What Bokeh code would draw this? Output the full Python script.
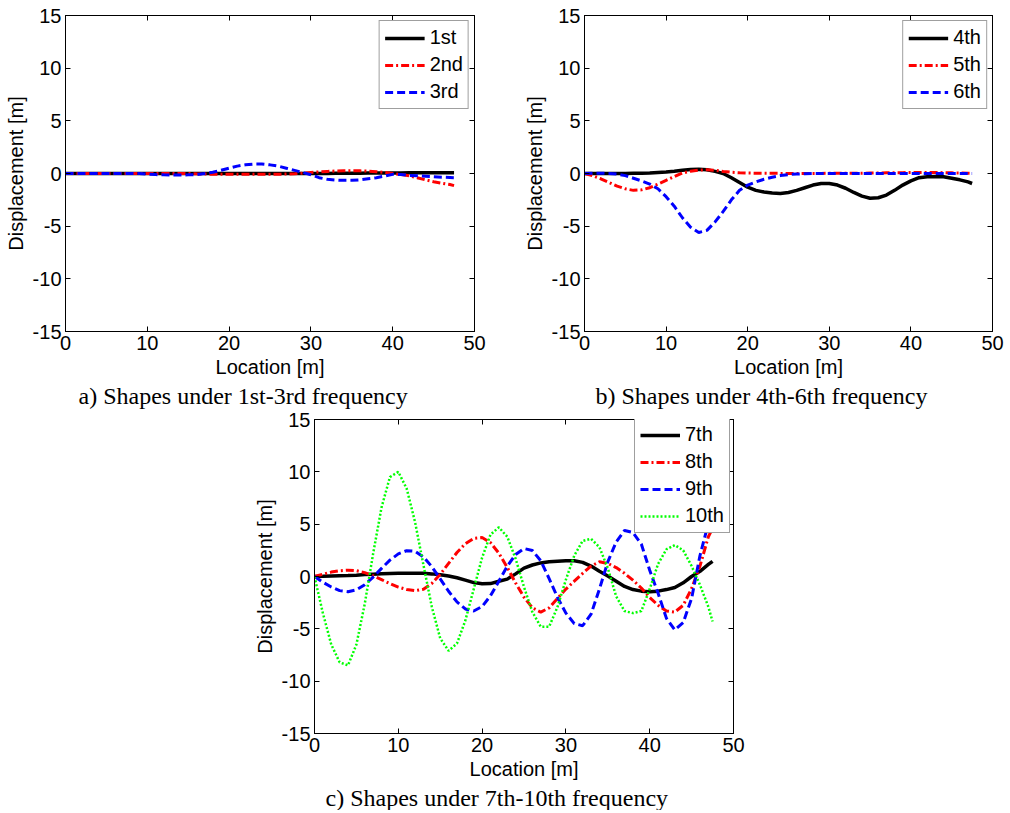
from bokeh.plotting import figure
from bokeh.layouts import column, row
from bokeh.models import LinearAxis, FixedTicker, Title, Legend, LegendItem, Range1d
from bokeh.embed import file_html
from bokeh.resources import INLINE

# ---------------- data ----------------
LOC = [0, 1, 2, 3, 4, 5, 6, 7, 8, 9, 10, 11, 12, 13, 14, 15, 16, 17, 18, 19,
       20, 21, 22, 23, 24, 25, 26, 27, 28, 29, 30, 31, 32, 33, 34, 35, 36, 37,
       38, 39, 40, 41, 42, 43, 44, 45, 46, 47, 47.5]

MODE_1 = [0, 0, 0, 0, 0, 0, 0, 0, 0, 0, 0, 0, 0, 0, 0, 0, 0, 0, 0, 0,
          0, 0, 0, 0, 0, 0, 0, 0, 0, 0, 0, 0.01, 0.01, 0.02, 0.02, 0.03, 0.03, 0.04,
          0.04, 0.05, 0.05, 0.05, 0.06, 0.06, 0.06, 0.06, 0.07, 0.07, 0.07]
MODE_2 = [0, 0, 0, 0, 0, 0, 0, 0, 0, 0, 0, 0, 0, 0, 0, 0, -0.03, -0.05, -0.07, -0.07,
          -0.07, -0.07, -0.07, -0.07, -0.07, -0.07, -0.07, -0.05, -0.02, 0.03, 0.1, 0.15,
          0.2, 0.23, 0.25, 0.25, 0.25, 0.22, 0.17, 0.1, 0.0, -0.1, -0.22, -0.4, -0.6,
          -0.78, -0.92, -1.05, -1.15]
MODE_3 = [0, 0, 0, 0, 0, 0, 0, 0, 0, 0, -0.05, -0.1, -0.13, -0.14, -0.14, -0.13, -0.1,
          0.0, 0.12, 0.3, 0.5, 0.7, 0.83, 0.9, 0.9, 0.82, 0.7, 0.5, 0.3, 0.1, -0.12,
          -0.4, -0.55, -0.62, -0.65, -0.65, -0.6, -0.5, -0.4, -0.25, -0.08, -0.1, -0.18,
          -0.22, -0.26, -0.3, -0.35, -0.38, -0.4]

MODE_4 = [0, 0, 0, 0, 0.01, 0.01, 0.02, 0.03, 0.05, 0.1, 0.15, 0.22, 0.3, 0.38, 0.4,
          0.35, 0.2, 0.0, -0.4, -0.85, -1.3, -1.6, -1.75, -1.85, -1.9, -1.8, -1.6,
          -1.35, -1.1, -0.95, -0.95, -1.1, -1.4, -1.8, -2.15, -2.35, -2.3, -2.05, -1.6,
          -1.1, -0.7, -0.4, -0.3, -0.28, -0.3, -0.45, -0.6, -0.8, -0.95]
MODE_5 = [0, -0.2, -0.5, -0.85, -1.2, -1.45, -1.6, -1.55, -1.35, -1.0, -0.65, -0.3,
          0.05, 0.22, 0.32, 0.35, 0.3, 0.2, 0.12, 0.07, 0.04, 0.03, 0.02, 0.02, 0.01,
          0.01, 0.01, 0.01, 0.01, 0.01, 0.02, 0.02, 0.03, 0.03, 0.03, 0.04, 0.05, 0.06,
          0.07, 0.08, 0.09, 0.1, 0.1, 0.09, 0.08, 0.06, 0.04, 0.02, 0.01]
MODE_6 = [0, 0.02, 0.02, 0.01, -0.05, -0.2, -0.45, -0.7, -1.0, -1.45, -2.2, -3.1, -4.2,
          -5.1, -5.6, -5.4, -4.6, -3.6, -2.5, -1.6, -1.1, -0.8, -0.55, -0.35, -0.2,
          -0.1, -0.05, -0.02, 0, 0, 0, 0, 0, 0, 0, 0, 0, 0, 0, 0, 0, 0, 0, 0, 0, 0, 0, 0, 0]

MODE_7 = [0, 0.02, 0.05, 0.08, 0.1, 0.13, 0.18, 0.22, 0.26, 0.28, 0.3, 0.32, 0.32, 0.3,
          0.25, 0.16, 0.05, -0.12, -0.35, -0.58, -0.7, -0.68, -0.45, -0.25, 0.25, 0.8,
          1.1, 1.3, 1.4, 1.45, 1.5, 1.5, 1.35, 1.0, 0.5, 0.05, -0.45, -0.95, -1.25, -1.4,
          -1.45, -1.4, -1.25, -1.05, -0.6, 0.0, 0.5, 1.15, 1.45]
MODE_8 = [0, 0.22, 0.42, 0.55, 0.6, 0.55, 0.37, 0.07, -0.3, -0.68, -1.01, -1.24, -1.35,
          -1.21, -0.66, 0.21, 1.25, 2.29, 3.13, 3.64, 3.72, 3.24, 2.23, 0.87, -0.62,
          -1.98, -2.99, -3.4, -3.0, -2.1, -1.2, -0.45, 0.3, 1.0, 1.4, 1.25, 0.85,
          0.3, -0.35, -1.1, -2.0, -2.75, -3.3, -3.4, -2.75, -1.15, 1.0, 3.8, 4.6]
MODE_9 = [0, -0.55, -1.0, -1.35, -1.45, -1.27, -0.78, -0.05, 0.78, 1.56, 2.16, 2.47,
          2.41, 1.87, 0.94, -0.22, -1.41, -2.43, -3.1, -3.3, -2.87, -1.84, -0.45, 0.98,
          2.11, 2.67, 2.48, 1.5, -0.2, -2.0, -3.5, -4.5, -4.7, -3.6, -1.2, 1.4,
          3.3, 4.4, 4.2, 3.1, 0.6, -1.6, -4.0, -5.1, -4.4, -2.1, 2.0, 5.1, 6.3]
MODE_10 = [0, -3.5, -6.5, -8.2, -8.49, -6.5, -2.6, 2.2, 6.6, 9.5, 10.0, 8.4, 5.2, 1.1,
           -2.9, -5.9, -7.1, -6.4, -4.2, -1.2, 1.8, 4.0, 4.7, 3.8, 1.7, -1.0, -3.4, -4.8,
           -4.8, -2.9, -0.3, 2.0, 3.4, 3.6, 2.8, 0.8, -1.9, -3.3, -3.5, -3.3, -1.2, 1.2,
           2.6, 3.0, 2.5, 1.0, -0.8, -2.9, -4.3]

LABELS_A = ["1st", "2nd", "3rd"]
LABELS_B = ["4th", "5th", "6th"]
LABELS_C = ["7th", "8th", "9th", "10th"]
CAPTION_A = "a) Shapes under 1st-3rd frequency"
CAPTION_B = "b) Shapes under 4th-6th frequency"
CAPTION_C = "c) Shapes under 7th-10th frequency"
X_TICKS = [0, 10, 20, 30, 40, 50]
Y_TICKS = [-15, -10, -5, 0, 5, 10, 15]
Y_TICK_TEXT = {-15: "-15", -10: "-10", -5: "-5"}
X_LABEL = "Location [m]"
Y_LABEL = "Displacement [m]"

# ---------------- styling ----------------
SANS = "Liberation Sans"
SERIF = "Liberation Serif"
STYLES = [
    dict(line_color="black", line_width=3.5),
    dict(line_color="#FF0000", line_width=3, line_dash="8 3 2 3"),
    dict(line_color="#0000FF", line_width=3, line_dash="8 4"),
    dict(line_color="#00FF00", line_width=2.5, line_dash="2 2"),
]


def style_axis(ax, ticks, show_labels=True):
    ax.ticker = FixedTicker(ticks=ticks)
    ax.major_tick_in = 5
    ax.major_tick_out = 0
    ax.minor_tick_line_color = None
    ax.axis_line_color = "black"
    ax.major_tick_line_color = "black"
    if show_labels:
        ax.major_label_text_font = SANS
        ax.major_label_text_font_size = "20px"
        ax.major_label_text_color = "black"
        ax.major_label_standoff = 4
        ax.axis_label_text_font = SANS
        ax.axis_label_text_font_size = "20px"
        ax.axis_label_text_font_style = "normal"
        ax.axis_label_text_color = "black"
        ax.axis_label_standoff = 3
    else:
        ax.major_label_text_font_size = "1px"
        ax.major_label_text_color = None
        ax.major_label_standoff = 0


def panel(series, labels, caption, fw, fh, left, right, top, bottom,
          cap_offset, legend_loc, legend_margin):
    p = figure(frame_width=fw, frame_height=fh,
               min_border_left=left, min_border_right=right,
               min_border_top=top, min_border_bottom=bottom,
               x_range=Range1d(0, 50), y_range=Range1d(-15, 15),
               x_axis_label=X_LABEL, y_axis_label=Y_LABEL,
               output_backend="svg", toolbar_location=None,
               background_fill_color="white", border_fill_color="white",
               outline_line_color="black")
    p.xgrid.visible = False
    p.ygrid.visible = False
    style_axis(p.xaxis[0], X_TICKS)
    style_axis(p.yaxis[0], Y_TICKS)
    p.yaxis[0].major_label_overrides = Y_TICK_TEXT
    top_ax = LinearAxis()
    style_axis(top_ax, X_TICKS, show_labels=False)
    p.add_layout(top_ax, "above")
    right_ax = LinearAxis()
    style_axis(right_ax, Y_TICKS, show_labels=False)
    p.add_layout(right_ax, "right")

    items = []
    for ys, lab, st in zip(series, labels, STYLES):
        r = p.line(LOC, ys, **st)
        items.append(LegendItem(label=lab, renderers=[r]))
    leg = Legend(items=items, location=legend_loc,
                 label_text_font=SANS, label_text_font_size="20px",
                 label_text_color="black",
                 glyph_width=40, glyph_height=20, label_height=20,
                 label_standoff=5, padding=5, spacing=4, margin=legend_margin,
                 border_line_color="#404040", border_line_width=1,
                 background_fill_color="white", background_fill_alpha=1.0)
    p.add_layout(leg)

    p.add_layout(Title(text=caption, align="left", offset=cap_offset,
                       text_font=SERIF, text_font_size="24px",
                       text_font_style="normal", text_color="black",
                       standoff=0), "below")
    return p


pa = panel([MODE_1, MODE_2, MODE_3], LABELS_A, CAPTION_A,
           409, 316, 65, 36, 15, 78, 13, "top_right", 5)
pb = panel([MODE_4, MODE_5, MODE_6], LABELS_B, CAPTION_B,
           408, 316, 74, 18, 15, 78, 11, "top_right", 5)
pc = panel([MODE_7, MODE_8, MODE_9, MODE_10], LABELS_C, CAPTION_C,
           419, 314, 314, 277, 10, 76, 11, (320, 200), 0)

layout = column(row(pa, pb), pc)
open("out.html", "w").write(file_html(layout, INLINE))
